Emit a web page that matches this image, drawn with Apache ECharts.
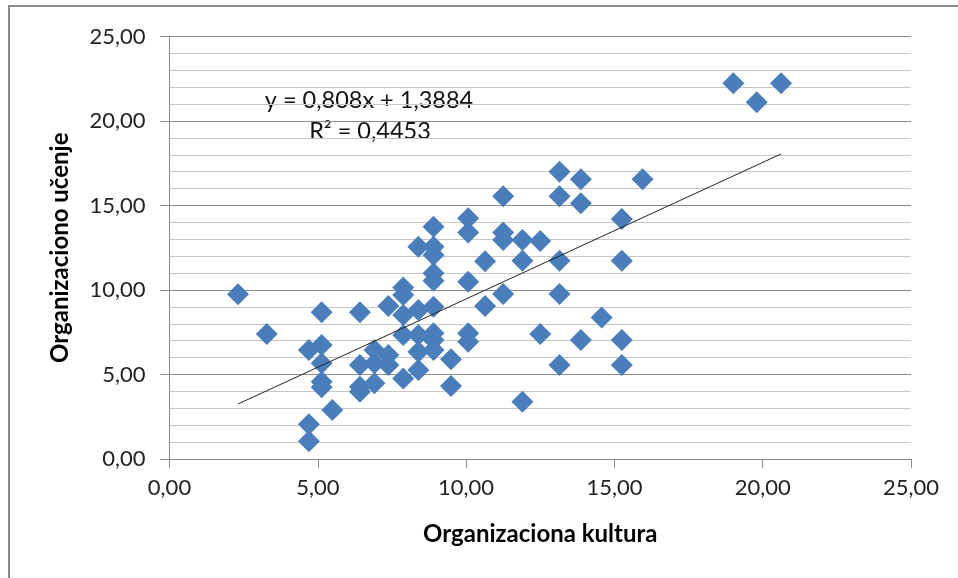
<!DOCTYPE html>
<html>
<head>
<meta charset="utf-8">
<script src="https://cdn.jsdelivr.net/npm/echarts@6/dist/echarts.min.js"></script>
<style>
  html, body { margin: 0; padding: 0; background: #fff; }
  #chart { width: 958px; height: 578px; }
</style>
</head>
<body>
<div id="chart"></div>
<script>
// Organizaciona kultura (x) vs. Organizaciono učenje (y)
const kultura = [
  2.31, 3.28, 4.70, 4.70, 4.70, 5.13, 5.13, 5.13, 5.13, 5.13,
  5.49, 6.42, 6.42, 6.42, 6.42, 6.91, 6.91, 6.91, 7.38, 7.38,
  7.38, 7.88, 7.88, 7.88, 7.88, 7.88, 8.39, 8.39, 8.39, 8.39,
  8.39, 8.90, 8.90, 8.90, 8.90, 8.90, 8.90, 8.90, 8.90, 8.90,
  9.49, 9.49, 10.07, 10.07, 10.07, 10.07, 10.07, 10.64, 10.64, 11.25,
  11.25, 11.25, 11.25, 11.90, 11.90, 11.90, 12.50, 12.50, 13.15, 13.15,
  13.15, 13.15, 13.15, 13.87, 13.87, 13.87, 14.57, 15.25, 15.25, 15.25,
  15.25, 15.95, 19.01, 19.80, 20.62
];
const ucenje = [
  9.75, 7.40, 6.45, 2.05, 1.05, 8.68, 6.75, 5.66, 4.57, 4.24,
  2.90, 8.68, 5.56, 4.28, 3.98, 6.45, 5.66, 4.48, 9.05, 6.15,
  5.56, 10.15, 9.70, 8.52, 7.34, 4.77, 12.56, 8.82, 7.34, 6.35,
  5.27, 13.75, 12.56, 12.07, 10.99, 10.55, 9.01, 7.44, 7.04, 6.45,
  5.90, 4.32, 14.24, 13.40, 10.49, 7.44, 6.94, 11.70, 9.05, 15.55,
  13.40, 12.96, 9.76, 12.96, 11.73, 3.39, 12.90, 7.40, 17.00, 15.55,
  11.73, 9.76, 5.56, 16.55, 15.13, 7.04, 8.38, 14.20, 11.73, 7.04,
  5.56, 16.55, 22.23, 21.11, 22.23
];
const axisTicks = [0, 5, 10, 15, 20, 25];

// Linear trend line (least squares fit)
const slope = 0.808;
const intercept = 1.3884;
const rSquared = 0.4453;

const fmt = (v, d) => v.toFixed(d).replace('.', ',');
const equationText = 'y = ' + fmt(slope, 3) + 'x + ' + fmt(intercept, 4);
const r2Text = 'R² = ' + fmt(rSquared, 4);

const points = kultura.map((x, i) => [x, ucenje[i]]);
const xMin = Math.min(...kultura);
const xMax = Math.max(...kultura);
const trend = [[xMin, slope * xMin + intercept], [xMax, slope * xMax + intercept]];

const FONT = 'Lato';
const chart = echarts.init(document.getElementById('chart'), null, { renderer: 'canvas' });

chart.setOption({
  animation: false,
  backgroundColor: '#ffffff',
  grid: { left: 169.5, right: 47, top: 36.5, bottom: 119, containLabel: false },
  xAxis: {
    type: 'value',
    min: axisTicks[0], max: axisTicks[axisTicks.length - 1], interval: 5,
    name: 'Organizaciona kultura',
    nameLocation: 'middle',
    nameGap: 63,
    nameTextStyle: { fontFamily: FONT, fontWeight: 'bold', fontSize: 24, color: '#000' },
    axisLine: { show: true, lineStyle: { color: '#8a8a8a', width: 1 } },
    axisTick: { show: true, length: 9, lineStyle: { color: '#8a8a8a' } },
    axisLabel: { fontFamily: FONT, fontSize: 22, color: '#222', margin: 18,
                 formatter: v => fmt(v, 2) },
    splitLine: { show: false }
  },
  yAxis: {
    type: 'value',
    min: axisTicks[0], max: axisTicks[axisTicks.length - 1], interval: 5,
    name: 'Organizaciono učenje',
    nameLocation: 'middle',
    nameGap: 97,
    nameTextStyle: { fontFamily: FONT, fontWeight: 'bold', fontSize: 24, color: '#000' },
    axisLine: { show: true, lineStyle: { color: '#8a8a8a', width: 1 } },
    axisTick: { show: true, length: 9, lineStyle: { color: '#8a8a8a' } },
    axisLabel: { fontFamily: FONT, fontSize: 22, color: '#222', margin: 24,
                 formatter: v => fmt(v, 2) },
    splitLine: { show: true, lineStyle: { color: '#8c8c8c', width: 1 } },
    minorTick: { show: false, splitNumber: 5 },
    minorSplitLine: { show: true, lineStyle: { color: '#c6c6c6', width: 1 } }
  },
  graphic: [
    { type: 'rect', shape: { x: 9, y: 6, width: 1200, height: 1200 },
      style: { fill: 'none', stroke: '#8a8a8a', lineWidth: 2 }, z: -1, silent: true },
    { type: 'text', x: 369, y: 100,
      style: { text: equationText, fontFamily: FONT, fontSize: 23.5, fill: '#111',
               align: 'center', verticalAlign: 'middle' } },
    { type: 'text', x: 370, y: 131,
      style: { text: r2Text, fontFamily: FONT, fontSize: 23.5, fill: '#111',
               align: 'center', verticalAlign: 'middle' } }
  ],
  series: [
    {
      type: 'line',
      data: trend,
      showSymbol: false,
      lineStyle: { color: '#222', width: 1 },
      z: 3
    },
    {
      type: 'scatter',
      data: points,
      symbol: 'diamond',
      symbolSize: 22,
      itemStyle: { color: '#4a7ebb', opacity: 1 },
      z: 2
    }
  ]
});
</script>
</body>
</html>
